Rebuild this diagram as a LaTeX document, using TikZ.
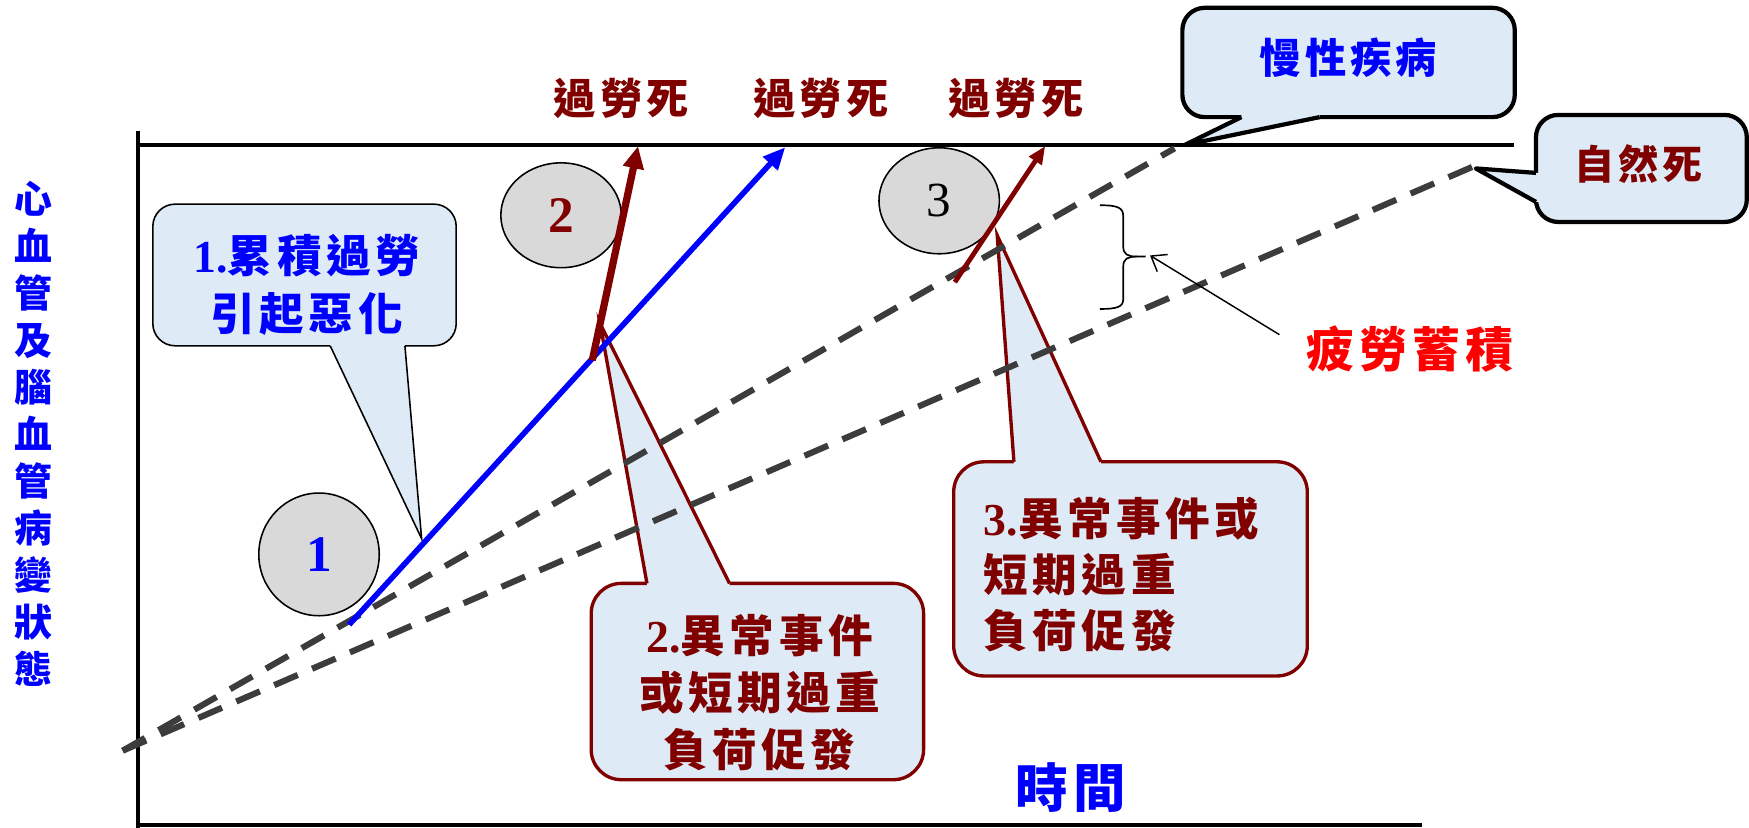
\documentclass[tikz,border=0pt]{standalone}
\usepackage{fontspec}
\setmainfont{Liberation Serif}
\newfontfamily\cjk{Noto Sans CJK TC}[LetterSpace=10]
\usetikzlibrary{arrows.meta,shapes.geometric}
\definecolor{dred}{RGB}{128,0,0}
\definecolor{lblue}{RGB}{222,235,247}
\definecolor{dashgray}{RGB}{60,60,60}
\definecolor{ballgray}{RGB}{217,217,217}
\definecolor{pureblue}{RGB}{0,0,255}
\definecolor{purered}{RGB}{255,0,0}
\newcommand\cjkfs[2]{\fontsize{#1}{#2}\selectfont\cjk\bfseries}
\newcommand\latfs[1]{\fontsize{#1}{#1}\selectfont\rmfamily\bfseries}
\begin{document}
\begin{tikzpicture}[x=1pt,y=-1pt,
  axisline/.style={line width=3.5pt,black},
  dashline/.style={draw=dashgray,line width=5.5pt,dash pattern=on 23pt off 14pt},
  ball/.style={ellipse,draw=black,line width=1.4pt,fill=ballgray,inner sep=0pt},
  boxthin/.style={fill=lblue,draw=black,line width=1.4pt,rounded corners=20pt},
  boxred/.style={fill=lblue,draw=dred,line width=3pt,rounded corners=27pt},
  boxthick/.style={fill=lblue,draw=black,line width=3.8pt,rounded corners=20pt},
  txt/.style={inner sep=0pt,outer sep=0pt},
]
\useasboundingbox (0,0) rectangle (1568,742);

% axes
\draw[axisline] (124,117) -- (124,742);
\draw[axisline] (124,130) -- (1357,130);
\draw[axisline] (124,740) -- (1275,740);

% callout 1
\filldraw[boxthin] (137,183) rectangle (409,310);
\coordinate (t1) at (378,483);
\fill[lblue] (296,305) -- (296,310) -- (t1) -- (363,310) -- (363,305) -- cycle;
\draw[black,line width=1.4pt] (296,310) -- (t1) -- (363,310);

% callout 2
\filldraw[boxred] (530,523) rectangle (828,699);
\coordinate (t2) at (538,290);
\fill[lblue] (580,528) -- (580,523) -- (t2) -- (654,523) -- (654,528) -- cycle;
\draw[dred,line width=3pt] (580,523) -- (t2) -- (654,523);

% callout 3
\filldraw[boxred] (855,414) rectangle (1172,606);
\coordinate (t3) at (894,211);
\fill[lblue] (909,419) -- (909,414) -- (t3) -- (987,414) -- (987,419) -- cycle;
\draw[dred,line width=3pt] (909,414) -- (t3) -- (987,414);

% dashed lines
\coordinate (o) at (110,673);
\coordinate (chr) at (1053,133);
\coordinate (nat) at (1326,147);
\draw[dashline] (o) -- (chr);
\draw[dashline] (o) -- (nat);

% callout chronic disease
\filldraw[boxthick] (1060,7) rectangle (1358,105);
\coordinate (t4) at (1062,130);
\fill[lblue] (1113,100) -- (1113,105) -- (t4) -- (1183,105) -- (1183,100) -- cycle;
\draw[black,line width=3.8pt,line join=round] (1113,105) -- (t4) -- (1183,105);

% callout natural death
\filldraw[boxthick] (1377,103) rectangle (1566,199);
\coordinate (t5) at (1323,151);
\fill[lblue] (1382,155) -- (1377,155) -- (t5) -- (1377,181) -- (1382,181) -- cycle;
\draw[black,line width=3.8pt,line join=round] (1377,155) -- (t5) -- (1377,181);

% blue arrow
\coordinate (bs) at (313,560);
\coordinate (be) at (704,132);
\draw[pureblue,line width=5pt,-{Triangle[length=20pt,width=17pt]}] (bs) -- (be);

% balls
\node[ball,minimum width=108pt,minimum height=110pt,text=pureblue,font=\latfs{46}] (b1) at (286,497) {1};
\node[ball,minimum width=108pt,minimum height=94pt,text=dred,font=\latfs{46}] (b2) at (503,193) {2};
\node[ball,minimum width=108pt,minimum height=95pt,text=black,font=\fontsize{44}{44}\selectfont\rmfamily] (b3) at (842,180) {3};

% red arrows
\coordinate (r2s) at (531,323);
\coordinate (r2e) at (572,131);
\draw[dred,line width=6.5pt,-{Triangle[length=20pt,width=18pt]}] (r2s) -- (r2e);
\coordinate (r3s) at (856,253);
\coordinate (r3e) at (937,131);
\draw[dred,line width=4.3pt,-{Triangle[length=16pt,width=13pt]}] (r3s) -- (r3e);

% texts
\node[txt,text=pureblue,align=center,font=\cjkfs{34}{42.2}] (ylab) at (30,389)
  {心\\血\\管\\及\\腦\\血\\管\\病\\變\\狀\\態};
\node[txt,text=dred,font=\cjkfs{38}{44}] (k1) at (557,88) {過勞死};
\node[txt,text=dred,font=\cjkfs{38}{44}] (k2) at (736,88) {過勞死};
\node[txt,text=dred,font=\cjkfs{38}{44}] (k3) at (911,88) {過勞死};
\node[txt,text=pureblue,font=\cjkfs{37}{44}] (chronic) at (1209,52) {慢性疾病};
\node[txt,text=dred,font=\cjkfs{36}{44}] (natural) at (1469,147) {自然死};
\node[txt,text=purered,font=\cjkfs{43}{50}] (fatigue) at (1264,313) {疲勞蓄積};
\node[txt,text=pureblue,font=\cjkfs{47}{54}] (time) at (960,706) {時間};

\node[txt,text=pureblue,align=center,font=\cjkfs{40}{52}] (c1) at (275,255)
  {{\latfs{41}1.}累積過勞\\引起惡化};
\node[txt,text=dred,align=center,font=\cjkfs{40}{51}] (c2) at (681,621)
  {{\latfs{41}2.}異常事件\\或短期過重\\負荷促發};
\node[txt,text=dred,align=left,font=\cjkfs{40}{50},anchor=west] (c3) at (882,515)
  {{\latfs{41}3.}異常事件或\\短期過重\\負荷促發};

% brace
\draw[black,line width=1.5pt]
  (986,184) .. controls (1002,184) and (1007,186) .. (1007,194) -- (1007,221)
  .. controls (1007,228) and (1011,230) .. (1019,230) -- (1027,230);
\draw[black,line width=1.5pt]
  (1019,230) .. controls (1011,230) and (1007,232) .. (1007,239) -- (1007,268)
  .. controls (1007,275) and (1002,277) .. (986,277);

% arrow to brace
\coordinate (fa) at (1147,300);
\coordinate (brtip) at (1031,229);
\draw[black,line width=1.3pt,-{Straight Barb[length=12pt,width=18pt]}] (fa) -- (brtip);
\end{tikzpicture}
\end{document}
